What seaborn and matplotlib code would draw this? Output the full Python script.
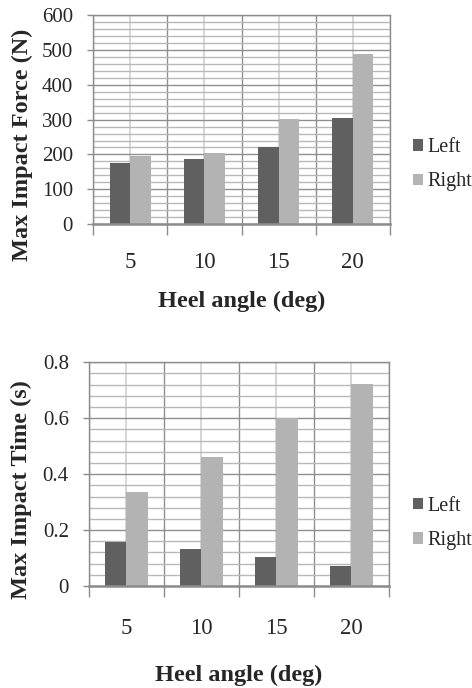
import numpy as np
import pandas as pd
import matplotlib
matplotlib.use("Agg")
import matplotlib.pyplot as plt
from matplotlib.ticker import MultipleLocator, FixedLocator, FuncFormatter
import seaborn as sns

# Heel angle categories and measured values per foot
angles = ["5", "10", "15", "20"]
sides = ["Left", "Right"]
force_left = [176, 186, 221, 306]
force_right = [196, 205, 301, 490]
time_left = [0.158, 0.131, 0.104, 0.071]
time_right = [0.336, 0.460, 0.601, 0.723]

force_ticks = [0, 100, 200, 300, 400, 500, 600]
time_ticks = [0, 0.2, 0.4, 0.6, 0.8]

palette = {"Left": "#606060", "Right": "#b3b3b3"}

sns.set_theme(style="white")
plt.rcParams["font.family"] = ["Liberation Serif", "DejaVu Serif"]

FS_LABEL = 17.5
FS_XTICK = 16.5
FS_YTICK = 15
FS_LEGEND = 14.5


def long_table(left, right):
    return pd.DataFrame({
        "angle": angles * 2,
        "side": ["Left"] * len(angles) + ["Right"] * len(angles),
        "value": list(left) + list(right),
    })


def style_axes(ax, ticks, minor_step, ylabel, label_x, label_y, xlabel_y,
               xpad, legend_x, legend_y):
    n = len(angles)
    ax.set_xlim(-0.5, n - 0.5)
    ax.set_ylim(ticks[0], ticks[-1])
    ax.set_yticks(ticks)
    ax.yaxis.set_major_formatter(FuncFormatter(lambda v, p: f"{v:g}"))
    ax.yaxis.set_minor_locator(MultipleLocator(minor_step))

    # category boundaries carry the tick marks, centres carry the labels
    ax.xaxis.set_major_locator(FixedLocator(np.arange(n + 1) - 0.5))
    ax.xaxis.set_minor_locator(FixedLocator(np.arange(n)))
    ax.set_xticklabels([], minor=False)
    ax.set_xticklabels(angles, minor=True)

    ax.tick_params(axis="x", which="major", bottom=True, length=8, width=1,
                   color="#8c8c8c", direction="out")
    ax.tick_params(axis="x", which="minor", bottom=True, length=0, pad=xpad,
                   labelsize=FS_XTICK)
    ax.tick_params(axis="y", which="major", left=True, length=4.5, width=1,
                   color="#8c8c8c", pad=10, labelsize=FS_YTICK)
    ax.tick_params(axis="y", which="minor", left=False)

    ax.grid(True, which="major", axis="both", color="#8f8f8f", lw=1.0)
    ax.grid(True, which="minor", axis="y", color="#b8b8b8", lw=1.0)
    ax.grid(True, which="minor", axis="x", color="#d0d0d0", lw=1.2)
    ax.set_axisbelow(True)

    for sp in ax.spines.values():
        sp.set_visible(True)
        sp.set_color("#8c8c8c")
        sp.set_linewidth(1.0)
    ax.spines["bottom"].set_linewidth(1.8)

    ax.set_ylabel(ylabel, fontsize=FS_LABEL, fontweight="bold", va="center")
    ax.yaxis.set_label_coords(label_x, label_y)
    ax.set_xlabel("Heel angle (deg)", fontsize=FS_LABEL, fontweight="bold",
                  va="center")
    ax.xaxis.set_label_coords(0.5, xlabel_y)

    leg = ax.legend(loc="center left", bbox_to_anchor=(legend_x, legend_y),
                    frameon=False, fontsize=FS_LEGEND, handlelength=0.5,
                    handleheight=0.5, handletextpad=0.2, labelspacing=0.75,
                    borderaxespad=0, borderpad=0)
    for h in leg.legend_handles:
        h.set_edgecolor("none")


fig = plt.figure(figsize=(4.72, 6.88), dpi=100)
ax1 = fig.add_axes([93 / 472, 1 - 224 / 688, 297 / 472, (224 - 15.3) / 688])
ax2 = fig.add_axes([89 / 472, 1 - 586 / 688, 299.7 / 472, (586 - 362.3) / 688])

sns.barplot(data=long_table(force_left, force_right), x="angle", y="value",
            hue="side", hue_order=sides, order=angles, palette=palette,
            width=0.55, gap=0, saturation=1, errorbar=None, linewidth=0, ax=ax1)
sns.barplot(data=long_table(time_left, time_right), x="angle", y="value",
            hue="side", hue_order=sides, order=angles, palette=palette,
            width=0.57, gap=0, saturation=1, errorbar=None, linewidth=0, ax=ax2)

style_axes(ax1, force_ticks, 20, "Max Impact Force (N)", -0.239, 0.378, -0.37,
           20, 1.077, 0.283)
style_axes(ax2, time_ticks, 0.04, "Max Impact Time (s)", -0.224, 0.43, -0.40,
           23, 1.081, 0.28)

fig.savefig("out.png", dpi=100, facecolor="white")
